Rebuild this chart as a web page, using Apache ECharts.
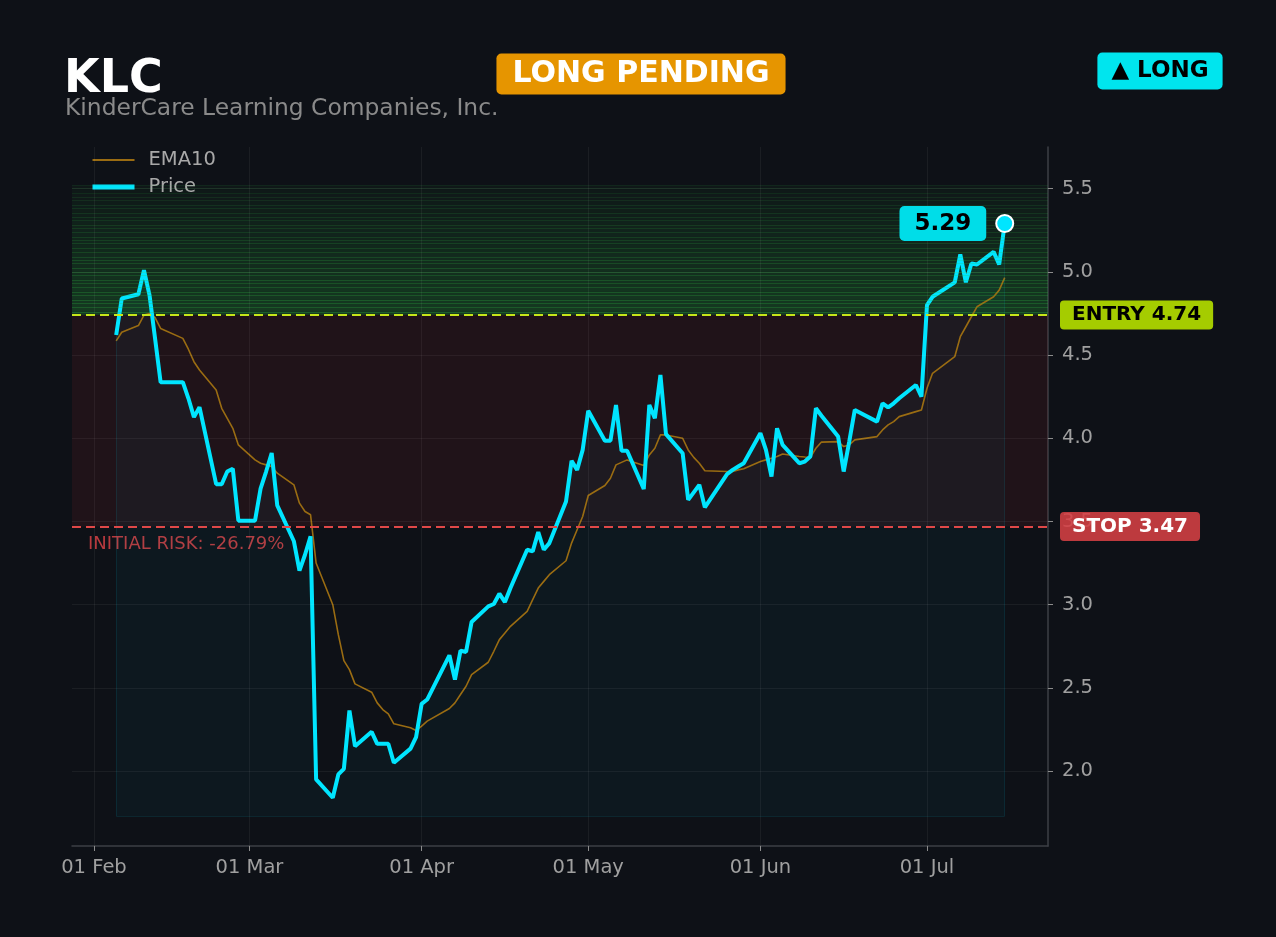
<!DOCTYPE html>
<html>
<head>
<meta charset="utf-8">
<title>KLC</title>
<script src="https://cdn.jsdelivr.net/npm/echarts@6/dist/echarts.min.js"></script>
<style>
  html, body { margin: 0; padding: 0; background: #0e1117; }
  #chart { width: 1276px; height: 937px; }
</style>
</head>
<body>
<div id="chart"></div>
<script>
// trading days (2026) shown on the chart
var dates = [
  '2026-02-05','2026-02-06','2026-02-09','2026-02-10','2026-02-11','2026-02-12','2026-02-13','2026-02-17',
  '2026-02-18','2026-02-19','2026-02-20','2026-02-23','2026-02-24','2026-02-25','2026-02-26','2026-02-27',
  '2026-03-02','2026-03-03','2026-03-04','2026-03-05','2026-03-06','2026-03-09','2026-03-10','2026-03-11',
  '2026-03-12','2026-03-13','2026-03-16','2026-03-17','2026-03-18','2026-03-19','2026-03-20','2026-03-23',
  '2026-03-24','2026-03-25','2026-03-26','2026-03-27','2026-03-30','2026-03-31',
  '2026-04-01','2026-04-02','2026-04-06','2026-04-07','2026-04-08','2026-04-09','2026-04-10','2026-04-13',
  '2026-04-14','2026-04-15','2026-04-16','2026-04-17','2026-04-20','2026-04-21','2026-04-22','2026-04-23',
  '2026-04-24','2026-04-27','2026-04-28','2026-04-29','2026-04-30',
  '2026-05-01','2026-05-04','2026-05-05','2026-05-06','2026-05-07','2026-05-08','2026-05-11','2026-05-12',
  '2026-05-13','2026-05-14','2026-05-15','2026-05-18','2026-05-19','2026-05-20','2026-05-21','2026-05-22',
  '2026-05-26','2026-05-27','2026-05-28','2026-05-29',
  '2026-06-01','2026-06-02','2026-06-03','2026-06-04','2026-06-05','2026-06-08','2026-06-09','2026-06-10',
  '2026-06-11','2026-06-12','2026-06-15','2026-06-16','2026-06-17','2026-06-18','2026-06-22','2026-06-23',
  '2026-06-24','2026-06-25','2026-06-26','2026-06-29','2026-06-30',
  '2026-07-01','2026-07-02','2026-07-06','2026-07-07','2026-07-08','2026-07-09','2026-07-10','2026-07-13',
  '2026-07-14','2026-07-15'
];

var price = [
  4.62, 4.84, 4.865, 5.01, 4.86, 4.60, 4.337, 4.337, 4.24, 4.127, 4.187, 3.724, 3.724, 3.80, 3.817, 3.505,
  3.505, 3.697, 3.80, 3.911, 3.597, 3.381, 3.205, 3.30, 3.411, 1.95, 1.84, 1.98, 2.014, 2.364, 2.15, 2.236,
  2.164, 2.164, 2.164, 2.05, 2.135, 2.204,
  2.404, 2.43, 2.696, 2.55, 2.724, 2.716, 2.896, 2.99, 3.004, 3.066, 3.016, 3.10, 3.33, 3.32, 3.436, 3.33,
  3.37, 3.62, 3.865, 3.81, 3.93,
  4.165, 3.985, 3.985, 4.20, 3.925, 3.925, 3.695, 4.20, 4.12, 4.38, 4.025, 3.91, 3.63, 3.675, 3.72, 3.585,
  3.785, 3.81, 3.83, 3.85,
  4.03, 3.93, 3.77, 4.06, 3.96, 3.85, 3.86, 3.89, 4.18, 4.135, 4.01, 3.80, 3.98, 4.17, 4.10, 4.21,
  4.185, 4.21, 4.24, 4.32, 4.25,
  4.80, 4.85, 4.937, 5.104, 4.937, 5.05, 5.044, 5.12, 5.044, 5.29
];

var ema10 = [
  4.585, 4.637, 4.677, 4.74, 4.75, 4.725, 4.66, 4.60, 4.535, 4.46, 4.41, 4.29, 4.18, 4.12, 4.06, 3.96,
  3.87, 3.85, 3.84, 3.83, 3.79, 3.72, 3.61, 3.56, 3.54, 3.25, 3.00, 2.82, 2.664, 2.61, 2.524, 2.474,
  2.41, 2.37, 2.344, 2.284, 2.26, 2.244,
  2.27, 2.30, 2.376, 2.41, 2.46, 2.51, 2.58, 2.654, 2.72, 2.79, 2.83, 2.87, 2.96, 3.03, 3.10, 3.14,
  3.18, 3.264, 3.37, 3.45, 3.53,
  3.656, 3.716, 3.76, 3.84, 3.855, 3.87, 3.836, 3.90, 3.94, 4.02, 4.02, 4.00, 3.93, 3.885, 3.85, 3.805,
  3.80, 3.80, 3.81, 3.817,
  3.86, 3.87, 3.88, 3.89, 3.905, 3.89, 3.887, 3.885, 3.94, 3.977, 3.98, 3.95, 3.96, 3.99, 4.01, 4.05,
  4.08, 4.10, 4.13, 4.16, 4.17,
  4.30, 4.39, 4.49, 4.61, 4.67, 4.73, 4.79, 4.85, 4.89, 4.965
];

var monthTicks = ['2026-02-01', '2026-03-01', '2026-04-01', '2026-05-01', '2026-06-01', '2026-07-01'];
var yTicks = [2.0, 2.5, 3.0, 3.5, 4.0, 4.5, 5.0, 5.5];

var entry = 4.74;
var stop = 3.47;
var target = 5.52;
var areaBase = 1.73;

var FONT = 'DejaVu Sans';

function ts(s) {
  var p = s.split('-');
  return new Date(+p[0], +p[1] - 1, +p[2]).getTime();
}

var priceData = dates.map(function (d, i) { return [ts(d), price[i]]; });
var emaData = dates.map(function (d, i) { return [ts(d), ema10[i]]; });
var firstT = ts(dates[0]);
var lastT = ts(dates[dates.length - 1]);
var lastPrice = price[price.length - 1];

// striped green target zone, stronger near the entry
var nBands = 33;
var zoneAreas = [
  [{ yAxis: stop, itemStyle: { color: 'rgba(220,45,60,0.09)' } }, { yAxis: entry }]
];
var guideLines = [];
for (var i = 0; i < nBands; i++) {
  var lo = entry + (target - entry) * i / nBands;
  var hi = entry + (target - entry) * (i + 1) / nBands;
  var a = 0.04 + 0.23 * (1 - i / nBands);
  zoneAreas.push([{ yAxis: lo, itemStyle: { color: 'rgba(40,170,60,' + a.toFixed(3) + ')' } }, { yAxis: hi }]);
  guideLines.push({ yAxis: hi, lineStyle: { color: 'rgba(50,190,70,' + (a * 0.8 + 0.06).toFixed(3) + ')', width: 1, type: 'solid' } });
}
// grid lines
monthTicks.forEach(function (m) {
  guideLines.push({ xAxis: ts(m), lineStyle: { color: 'rgba(255,255,255,0.055)', width: 1, type: 'solid' } });
});
yTicks.forEach(function (v) {
  guideLines.push({ yAxis: v, lineStyle: { color: 'rgba(255,255,255,0.055)', width: 1, type: 'solid' } });
});
// fill outline
guideLines.push([{ coord: [firstT, areaBase] }, { coord: [lastT, areaBase], lineStyle: { color: 'rgba(0,229,255,0.1)', width: 1, type: 'solid' } }]);
guideLines.push([{ coord: [firstT, areaBase] }, { coord: [firstT, price[0]], lineStyle: { color: 'rgba(0,229,255,0.1)', width: 1, type: 'solid' } }]);
guideLines.push([{ coord: [lastT, areaBase] }, { coord: [lastT, lastPrice], lineStyle: { color: 'rgba(0,229,255,0.1)', width: 1, type: 'solid' } }]);

var levelLines = [
  {
    yAxis: entry,
    lineStyle: { color: '#c6e619', width: 2, type: [9, 5] },
    label: {
      show: true, position: 'end', distance: 12, formatter: 'ENTRY ' + entry.toFixed(2),
      backgroundColor: '#a5cc00', color: '#000', fontWeight: 'bold', fontSize: 20, fontFamily: FONT,
      padding: [5, 12, 4, 12], borderRadius: 4
    }
  },
  {
    yAxis: stop,
    lineStyle: { color: '#e04848', width: 2, type: [9, 5] },
    label: {
      show: true, position: 'end', distance: 12, formatter: 'STOP ' + stop.toFixed(2),
      backgroundColor: 'rgba(214,64,68,0.88)', color: '#fff', fontWeight: 'bold', fontSize: 20, fontFamily: FONT,
      padding: [5, 12, 4, 12], borderRadius: 4
    }
  }
];

var chart = echarts.init(document.getElementById('chart'));

var option = {
  backgroundColor: '#0e1117',
  animation: false,
  textStyle: { fontFamily: FONT },
  grid: { left: 72, right: 228, top: 147, bottom: 91 },
  legend: {
    data: [
      { name: 'EMA10', lineStyle: { width: 2 } },
      { name: 'Price', lineStyle: { width: 5 } }
    ],
    orient: 'vertical',
    left: 85,
    top: 145,
    itemWidth: 42,
    itemHeight: 14,
    itemGap: 7,
    itemStyle: { opacity: 0 },
    textStyle: { color: '#a8a8a8', fontSize: 19.5, fontFamily: FONT, padding: [0, 0, 0, 9] }
  },
  xAxis: {
    type: 'time',
    min: ts('2026-01-28') + 3600 * 1000,
    max: ts('2026-07-22') + 19 * 3600 * 1000,
    axisLine: { lineStyle: { color: '#3c3f46', width: 1.5 } },
    axisTick: { show: true, customValues: monthTicks.map(ts), length: 5, lineStyle: { color: '#8c8c8c' } },
    axisLabel: {
      customValues: monthTicks.map(ts), formatter: '{dd} {MMM}', color: '#a0a0a0',
      fontSize: 19.5, margin: 12, fontFamily: FONT
    },
    splitLine: { show: false }
  },
  yAxis: {
    type: 'value',
    position: 'right',
    min: 1.55,
    max: 5.75,
    axisLine: { show: true, lineStyle: { color: '#3c3f46', width: 1.5 } },
    axisTick: { show: true, customValues: yTicks, length: 5, lineStyle: { color: '#8c8c8c' } },
    axisLabel: {
      customValues: yTicks, formatter: function (v) { return v.toFixed(1); },
      color: '#a0a0a0', fontSize: 19.5, margin: 14, fontFamily: FONT
    },
    splitLine: { show: false }
  },
  series: [
    {
      name: 'guides',
      type: 'line',
      data: [],
      silent: true,
      markArea: { silent: true, data: zoneAreas },
      markLine: { silent: true, symbol: 'none', label: { show: false }, data: guideLines }
    },
    {
      name: 'EMA10',
      type: 'line',
      data: emaData,
      symbol: 'none',
      lineStyle: { color: '#9a6c12', width: 1.6 },
      itemStyle: { color: '#9a6c12' },
      markLine: { silent: true, symbol: 'none', data: levelLines }
    },
    {
      name: 'Price',
      type: 'line',
      data: priceData,
      symbol: 'none',
      lineStyle: { color: '#00e5ff', width: 4 },
      itemStyle: { color: '#00e5ff' },
      areaStyle: { origin: areaBase, color: 'rgba(0,229,255,0.05)' }
    },
    {
      name: 'last',
      type: 'scatter',
      data: [[lastT, lastPrice]],
      symbolSize: 17,
      itemStyle: { color: '#00e5ff', borderColor: '#ffffff', borderWidth: 2, opacity: 1 },
      label: {
        show: true, position: 'left', distance: 9,
        formatter: function (p) { return p.value[1].toFixed(2); },
        backgroundColor: '#00dde8', color: '#000', fontWeight: 'bold', fontSize: 23, fontFamily: FONT,
        padding: [6, 15, 6, 15], borderRadius: 5
      },
      z: 5
    }
  ]
};

chart.setOption(option);

var stopY = chart.convertToPixel({ yAxisIndex: 0 }, stop);
var risk = ((stop - entry) / entry * 100).toFixed(2);

chart.setOption({
  graphic: [
    {
      type: 'text', x: 64, y: 80,
      style: { text: 'KLC', fill: '#ffffff', fontSize: 46, fontWeight: 'bold', fontFamily: FONT, verticalAlign: 'middle' }
    },
    {
      type: 'text', x: 65, y: 109,
      style: { text: 'KinderCare Learning Companies, Inc.', fill: '#8a8a8a', fontSize: 23.4, fontFamily: FONT, verticalAlign: 'middle' }
    },
    {
      type: 'text', x: 641, y: 74,
      style: {
        text: 'LONG PENDING', fill: '#ffffff', fontSize: 30, fontWeight: 'bold', fontFamily: FONT,
        align: 'center', verticalAlign: 'middle', backgroundColor: '#e69500',
        padding: [5, 16], borderRadius: 5, lineHeight: 31
      }
    },
    {
      type: 'text', x: 1160, y: 71,
      style: {
        text: '\u25B2 LONG', fill: '#000000', fontSize: 23, fontWeight: 'bold', fontFamily: FONT,
        align: 'center', verticalAlign: 'middle', backgroundColor: '#00e5ee',
        padding: [5, 14], borderRadius: 5, lineHeight: 27
      }
    },
    {
      type: 'text', x: 88, y: stopY + 18,
      style: {
        text: 'INITIAL RISK: ' + risk + '%', fill: '#b83a3e', fontSize: 18, fontFamily: FONT,
        verticalAlign: 'middle'
      }
    }
  ]
});
</script>
</body>
</html>
